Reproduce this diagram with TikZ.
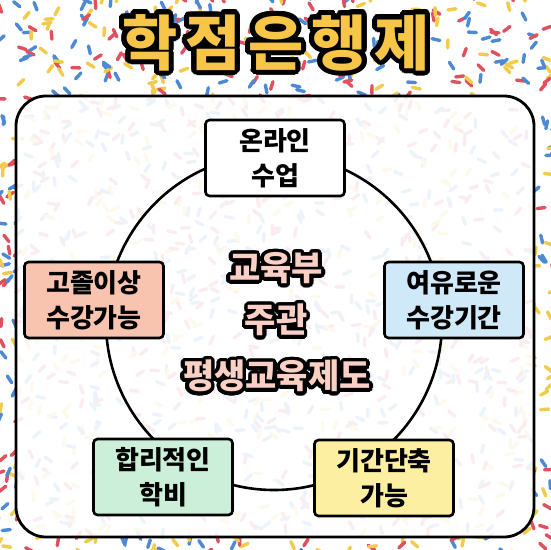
\documentclass[tikz,border=0pt]{standalone}
\usepackage{fontspec}
\usepackage{contour}
\newfontfamily\cjk{Noto Sans CJK KR}
\definecolor{sprR}{HTML}{E0505F}
\definecolor{sprB}{HTML}{4C8AD6}
\definecolor{sprY}{HTML}{F2CB4A}
\definecolor{titleY}{HTML}{F7C548}
\definecolor{pinkT}{HTML}{FAD0C4}
\definecolor{boxA}{HTML}{F8C3AF}
\definecolor{boxB}{HTML}{CFE9F8}
\definecolor{boxC}{HTML}{CBEFD9}
\definecolor{boxD}{HTML}{FCEFA2}
\contournumber{32}
\tikzset{
  infobox/.style={draw, line width=2.6pt, rounded corners=4pt, minimum width=139pt,
    minimum height=76pt, align=center, inner sep=0pt,
    font=\cjk\bfseries\fontsize{26}{35}\selectfont},
  ring/.style={circle, draw, line width=2.6pt, minimum size=336pt, inner sep=0pt},
  bigtitle/.style={text=titleY, font=\cjk\bfseries\fontsize{60}{60}\selectfont, inner sep=0pt},
  centertext/.style={text=pinkT, font=\cjk\bfseries\fontsize{34}{34}\selectfont, inner sep=0pt}
}
\begin{document}
\begin{tikzpicture}[x=1pt,y=-1pt]
\useasboundingbox (0,0) rectangle (550,550);
\fill[white] (0,0) rectangle (550,550);
% sprinkles
\pgfmathsetseed{11}
\foreach \i in {1,...,1400}{
  \pgfmathsetmacro\px{rnd*570-10}
  \pgfmathsetmacro\py{rnd*570-10}
  \pgfmathsetmacro\an{rnd*360}
  \pgfmathtruncatemacro\cc{int(rnd*3)}
  \ifcase\cc \def\col{sprR}\or \def\col{sprB}\else \def\col{sprY}\fi
  \draw[\col, line width=3.4pt, line cap=round] (\px,\py) -- ++(\an:8);
}
% panel
\draw[line width=2.8pt, rounded corners=30pt, fill=white, fill opacity=0.9] (16,96) rectangle (534,537);
% title
\contourlength{5pt}
\node[bigtitle] (title) at (276,45) {\contour{black}{학\hspace{8pt}점\hspace{8pt}은\hspace{8pt}행\hspace{8pt}제}};
% ring
\node[ring] (ring) at (274,322) {};
% center text
\contourlength{3.5pt}
\node[centertext] (c1) at (276,270) {\contour{black}{교육부}};
\node[centertext] (c2) at (276,322) {\contour{black}{주관}};
\node[centertext] (c3) at (277,378) {\contour{black}{평생교육제도}};
% boxes
\node[infobox, fill=white] (online) at (275,158) {온라인\\수업};
\node[infobox, fill=boxA] (grad) at (94,300) {고졸이상\\수강가능};
\node[infobox, fill=boxB] (relax) at (454,300) {여유로운\\수강기간};
\node[infobox, fill=boxC] (fee) at (163,477) {합리적인\\학비};
\node[infobox, fill=boxD] (short) at (384,478) {기간단축\\가능};
\end{tikzpicture}
\end{document}
